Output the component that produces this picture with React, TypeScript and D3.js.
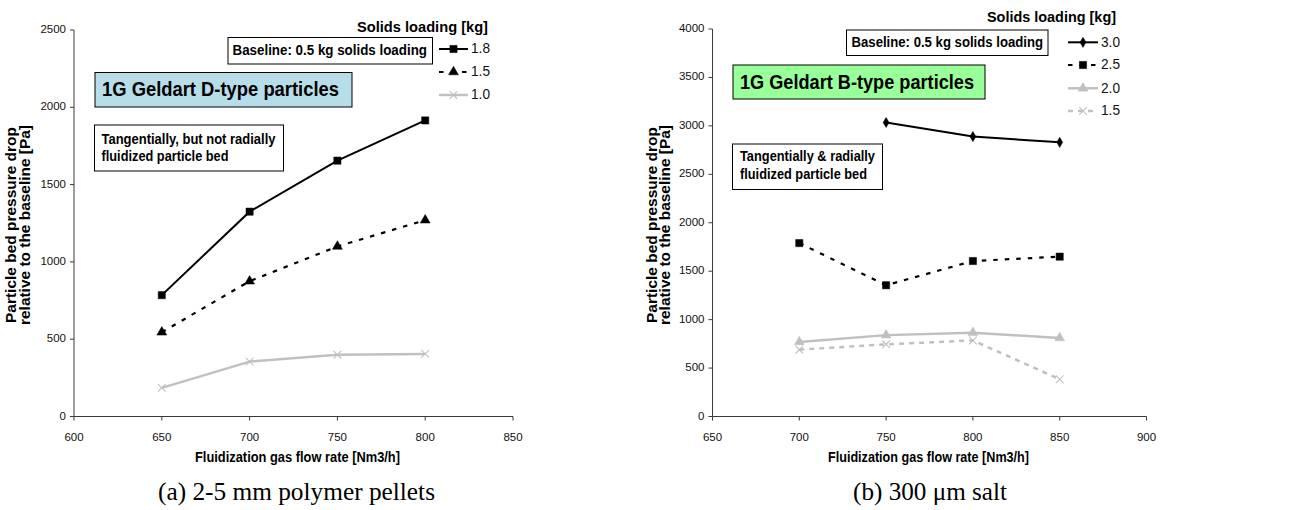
import React from "react";
import * as d3 from "d3";

// ---- Data: panel (a) 2-5 mm polymer pellets ----
const flowA = [650, 700, 750, 800];
const a18 = [785, 1325, 1655, 1915];
const a15 = [545, 875, 1100, 1270];
const a10 = [185, 355, 400, 405];
const xTicksA = [600, 650, 700, 750, 800, 850];
const yTicksA = [0, 500, 1000, 1500, 2000, 2500];

// ---- Data: panel (b) 300 um salt ----
const flowB = [700, 750, 800, 850];
const b30 = [null, 3035, 2890, 2830];
const b25 = [1790, 1355, 1605, 1650];
const b20 = [770, 840, 865, 810];
const b15 = [690, 745, 785, 385];
const xTicksB = [650, 700, 750, 800, 850, 900];
const yTicksB = [0, 500, 1000, 1500, 2000, 2500, 3000, 3500, 4000];

const FONT = "'Liberation Sans', Arial, sans-serif";
const symTimes = (d3 as any).symbolTimes || (d3 as any).symbolX;

type Series = {
  label: string;
  values: (number | null)[];
  color: string;
  width: number;
  dash?: string;
  symbol: any;
  size: number;
  filled: boolean;
};

type PanelCfg = {
  x0: number; x1: number; y0: number; y1: number;
  xDomain: [number, number]; yDomain: [number, number];
  xTicks: number[]; yTicks: number[];
  flows: number[];
  series: Series[];
  yLabelX: [number, number];
  xLabel: { cx: number; y: number; w: number };
  caption: { cx: number; y: number; text: string; w: number };
  legend: { titleCx: number; titleY: number; titleW: number; lineX0: number; lineX1: number; textX: number; ys: number[] };
  baseline: { x: number; y: number; w: number; h: number; tx: number; tw: number };
  typeBox: { x: number; y: number; w: number; h: number; fill: string; text: string; tx: number; tw: number };
  fluidBox: { x: number; y: number; w: number; h: number; lines: string[]; tws: number[]; tx: number; ys: number[] };
};

function Marker({ s, x, y }: { s: Series; x: number; y: number }) {
  const path = d3.symbol().type(s.symbol).size(s.size)();
  return (
    <path
      d={path || ""}
      transform={`translate(${x},${y})`}
      fill={s.filled ? s.color : "none"}
      stroke={s.color}
      strokeWidth={s.filled ? 0.5 : 1.1}
    />
  );
}

function Panel({ c }: { c: PanelCfg }) {
  const x = d3.scaleLinear().domain(c.xDomain).range([c.x0, c.x1]);
  const y = d3.scaleLinear().domain(c.yDomain).range([c.y0, c.y1]);
  const axisColor = "#3a3a3a";
  const line = d3
    .line<[number, number | null]>()
    .defined((d) => d[1] != null)
    .x((d) => x(d[0]))
    .y((d) => y(d[1] as number));
  return (
    <g fontFamily={FONT}>
      {/* axes */}
      <line x1={c.x0} x2={c.x0} y1={c.y0} y2={c.y1} stroke={axisColor} strokeWidth={1} />
      <line x1={c.x0} x2={c.x1} y1={c.y0} y2={c.y0} stroke={axisColor} strokeWidth={1} />
      {c.yTicks.map((t) => (
        <g key={"y" + t}>
          <line x1={c.x0 - 4} x2={c.x0} y1={y(t)} y2={y(t)} stroke={axisColor} />
          <text x={c.x0 - 8} y={y(t)} textAnchor="end" dominantBaseline="middle" fontSize={11.5} fill="#111">
            {t}
          </text>
        </g>
      ))}
      {c.xTicks.map((t) => (
        <g key={"x" + t}>
          <line x1={x(t)} x2={x(t)} y1={c.y0} y2={c.y0 + 4} stroke={axisColor} />
          <text x={x(t)} y={c.y0 + 21} textAnchor="middle" dominantBaseline="middle" fontSize={11.5} fill="#111">
            {t}
          </text>
        </g>
      ))}
      {/* axis titles */}
      <text
        transform={`translate(${c.yLabelX[0]},225) rotate(-90)`}
        textAnchor="middle"
        dominantBaseline="middle"
        fontSize={14}
        fontWeight="bold"
        textLength={196}
        lengthAdjust="spacingAndGlyphs"
      >
        Particle bed pressure drop
      </text>
      <text
        transform={`translate(${c.yLabelX[1]},225) rotate(-90)`}
        textAnchor="middle"
        dominantBaseline="middle"
        fontSize={14}
        fontWeight="bold"
        textLength={200}
        lengthAdjust="spacingAndGlyphs"
      >
        relative to the baseline [Pa]
      </text>
      <text
        x={c.xLabel.cx}
        y={c.xLabel.y}
        textAnchor="middle"
        dominantBaseline="middle"
        fontSize={14}
        fontWeight="bold"
        textLength={c.xLabel.w}
        lengthAdjust="spacingAndGlyphs"
      >
        Fluidization gas flow rate [Nm3/h]
      </text>
      <text
        x={c.caption.cx}
        y={c.caption.y}
        textAnchor="middle"
        dominantBaseline="middle"
        fontSize={26}
        fontFamily="'Liberation Serif', 'Times New Roman', serif"
        textLength={c.caption.w}
        lengthAdjust="spacingAndGlyphs"
      >
        {c.caption.text}
      </text>
      {/* boxes */}
      <rect x={c.baseline.x} y={c.baseline.y} width={c.baseline.w} height={c.baseline.h} fill="#fff" stroke="#000" strokeWidth={1} />
      <text
        x={c.baseline.tx}
        y={c.baseline.y + c.baseline.h / 2 + 0.5}
        dominantBaseline="middle"
        fontSize={14.5}
        fontWeight="bold"
        textLength={c.baseline.tw}
        lengthAdjust="spacingAndGlyphs"
      >
        Baseline: 0.5 kg solids loading
      </text>
      <rect x={c.typeBox.x} y={c.typeBox.y} width={c.typeBox.w} height={c.typeBox.h} fill={c.typeBox.fill} stroke="#000" strokeWidth={1} />
      <text
        x={c.typeBox.tx}
        y={c.typeBox.y + c.typeBox.h / 2 + 1}
        dominantBaseline="middle"
        fontSize={21}
        fontWeight="bold"
        textLength={c.typeBox.tw}
        lengthAdjust="spacingAndGlyphs"
      >
        {c.typeBox.text}
      </text>
      <rect x={c.fluidBox.x} y={c.fluidBox.y} width={c.fluidBox.w} height={c.fluidBox.h} fill="#fff" stroke="#000" strokeWidth={1} />
      {c.fluidBox.lines.map((l, i) => (
        <text
          key={l}
          x={c.fluidBox.tx}
          y={c.fluidBox.ys[i]}
          dominantBaseline="middle"
          fontSize={15}
          fontWeight="bold"
          textLength={c.fluidBox.tws[i]}
          lengthAdjust="spacingAndGlyphs"
        >
          {l}
        </text>
      ))}
      {/* series */}
      {c.series.map((s) => {
        const pts = c.flows.map((f, i) => [f, s.values[i]] as [number, number | null]);
        return (
          <g key={s.label}>
            <path d={line(pts) || ""} fill="none" stroke={s.color} strokeWidth={s.width} strokeDasharray={s.dash} />
            {pts
              .filter((p) => p[1] != null)
              .map((p, i) => (
                <Marker key={i} s={s} x={x(p[0])} y={y(p[1] as number)} />
              ))}
          </g>
        );
      })}
      {/* legend */}
      <text
        x={c.legend.titleCx}
        y={c.legend.titleY}
        textAnchor="middle"
        dominantBaseline="middle"
        fontSize={15}
        fontWeight="bold"
        textLength={c.legend.titleW}
        lengthAdjust="spacingAndGlyphs"
      >
        Solids loading [kg]
      </text>
      {c.series.map((s, i) => {
        const ly = c.legend.ys[i];
        const mx = (c.legend.lineX0 + c.legend.lineX1) / 2;
        return (
          <g key={"lg" + s.label}>
            <line x1={c.legend.lineX0} x2={c.legend.lineX1} y1={ly} y2={ly} stroke={s.color} strokeWidth={s.width} strokeDasharray={s.dash} />
            <Marker s={s} x={mx} y={ly} />
            <text
              x={c.legend.textX}
              y={ly + 0.5}
              dominantBaseline="middle"
              fontSize={15}
              fill="#111"
              textLength={19}
              lengthAdjust="spacingAndGlyphs"
            >
              {s.label}
            </text>
          </g>
        );
      })}
    </g>
  );
}

const GRAY = "#c0c0c0";

const panelA: PanelCfg = {
  x0: 74, x1: 513, y0: 416.5, y1: 30,
  xDomain: [600, 850], yDomain: [0, 2500],
  xTicks: xTicksA, yTicks: yTicksA,
  flows: flowA,
  series: [
    { label: "1.8", values: a18, color: "#000", width: 2, symbol: d3.symbolSquare, size: 52, filled: true },
    { label: "1.5", values: a15, color: "#000", width: 2.2, dash: "4.5,7", symbol: d3.symbolTriangle, size: 42, filled: true },
    { label: "1.0", values: a10, color: GRAY, width: 2.5, symbol: symTimes, size: 40, filled: false },
  ],
  yLabelX: [12, 26],
  xLabel: { cx: 297.5, y: 458, w: 205 },
  caption: { cx: 296.5, y: 494, text: "(a) 2-5 mm polymer pellets", w: 277 },
  legend: { titleCx: 422.5, titleY: 28, titleW: 131, lineX0: 439, lineX1: 468, textX: 471, ys: [49, 72, 95] },
  baseline: { x: 228, y: 37.5, w: 204.5, h: 26.5, tx: 232.5, tw: 194.5 },
  typeBox: { x: 95, y: 72.5, w: 257, h: 34.5, fill: "#b7dee8", text: "1G Geldart D-type particles", tx: 102, tw: 237 },
  fluidBox: { x: 94.5, y: 125, w: 189, h: 46, lines: ["Tangentially, but not radially", "fluidized particle bed"], tws: [174, 127], tx: 101.5, ys: [140, 157] },
};

const panelB: PanelCfg = {
  x0: 712.5, x1: 1146.5, y0: 416.5, y1: 29,
  xDomain: [650, 900], yDomain: [0, 4000],
  xTicks: xTicksB, yTicks: yTicksB,
  flows: flowB,
  series: [
    { label: "3.0", values: b30, color: "#000", width: 2, symbol: d3.symbolDiamond, size: 30, filled: true },
    { label: "2.5", values: b25, color: "#000", width: 2.2, dash: "4.5,7", symbol: d3.symbolSquare, size: 52, filled: true },
    { label: "2.0", values: b20, color: GRAY, width: 2.5, symbol: d3.symbolTriangle, size: 42, filled: true },
    { label: "1.5", values: b15, color: GRAY, width: 2.5, dash: "5,5", symbol: symTimes, size: 40, filled: false },
  ],
  yLabelX: [653, 666],
  xLabel: { cx: 928.5, y: 458, w: 201 },
  caption: { cx: 930, y: 494, text: "(b) 300 \u03bcm salt", w: 154 },
  legend: { titleCx: 1051.5, titleY: 18, titleW: 129, lineX0: 1068, lineX1: 1098, textX: 1101, ys: [42.3, 65, 88.3, 111] },
  baseline: { x: 846.5, y: 30, w: 201.5, h: 25.5, tx: 851.5, tw: 191.5 },
  typeBox: { x: 733, y: 65, w: 252, h: 34, fill: "#99ff99", text: "1G Geldart B-type particles", tx: 740, tw: 234 },
  fluidBox: { x: 732.5, y: 144, w: 150, h: 45.5, lines: ["Tangentially & radially", "fluidized particle bed"], tws: [135, 127], tx: 740, ys: [157.3, 175] },
};

export default function App() {
  return (
    <svg
      width={1291}
      height={510}
      style={{ position: "absolute", left: 0, top: 0, background: "#fff" }}
      xmlns="http://www.w3.org/2000/svg"
    >
      <rect width={1291} height={510} fill="#fff" />
      <Panel c={panelA} />
      <Panel c={panelB} />
    </svg>
  );
}
